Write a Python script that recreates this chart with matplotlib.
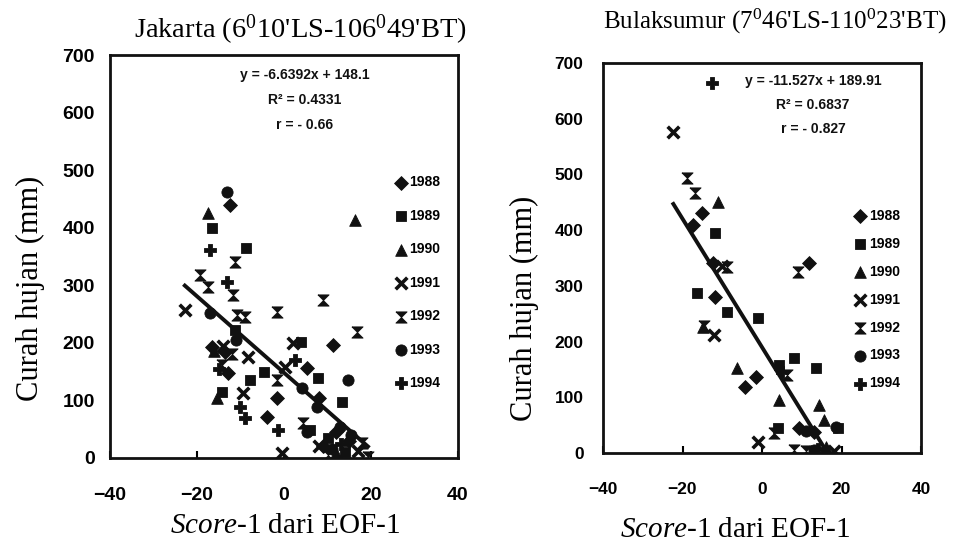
import matplotlib
matplotlib.use("Agg")
import matplotlib.pyplot as plt
import numpy as np

plt.rcParams['mathtext.fontset'] = 'custom'
plt.rcParams['mathtext.rm'] = 'Liberation Serif'
plt.rcParams['mathtext.it'] = 'Liberation Serif:italic'
plt.rcParams['mathtext.bf'] = 'Liberation Serif:bold'

years = ['1988', '1989', '1990', '1991', '1992', '1993', '1994']

# ---------------- Jakarta data (score-1, rainfall mm) ----------------
jkt_x = {
    '1988': [-12.5, -16.5, 11.3, 5.3, -1.6, -3.9, -13.6, 12.0, 9.0, 15.0, -12.9, 8.0],
    '1989': [-16.5, -8.7, 3.8, -14.3, -7.8, 7.8, 13.3, -11.3, 14.0, 10.0, 6.0, -4.5],
    '1990': [-17.5, 16.3, -15.4, -16.0, 12.0],
    '1991': [-22.8, -8.3, 2.0, -0.5, 0.2, -9.4, -14.0, 17.0, 8.0],
    '1992': [-11.3, -19.3, -17.5, -11.7, -10.8, -9.0, -1.6, 9.0, 16.8, -1.6, -14.3, 18.0, 19.3, 4.4, 10.0, -12.0],
    '1993': [-13.0, -17.0, 14.7, 4.1, 7.6, 5.3, 12.9, -11.0, 15.5, 11.0],
    '1994': [-17.0, -13.1, 2.5, -9.0, -1.4, -10.1, 13.0, -15.0],
}
jkt_y = {
    '1988': [440, 193, 196, 156, 104, 71, 184, 45, 20, 30, 147, 105],
    '1989': [399, 364, 201, 115, 135, 139, 97, 222, 10, 35, 48, 150],
    '1990': [425, 413, 104, 185, 8],
    '1991': [257, 175, 200, 9, 158, 113, 195, 12, 20],
    '1992': [340, 318, 297, 283, 248, 245, 253, 274, 219, 135, 161, 26, 2, 61, 5, 180],
    '1993': [462, 251, 135, 122, 89, 45, 54, 205, 40, 15],
    '1994': [361, 305, 170, 69, 49, 89, 25, 155],
}
jkt_slope, jkt_icpt = -6.6392, 148.1
jkt_eq = ['y = -6.6392x + 148.1', 'R² = 0.4331', 'r = - 0.66']

# ---------------- Bulaksumur data ----------------
blk_x = {
    '1988': [-15.0, -12.3, -11.7, 11.8, -1.6, -4.2, 9.2, -17.3, 13.0],
    '1989': [-11.7, -16.3, -8.7, -1.1, 8.0, 13.5, 3.9, 4.2, 19.0],
    '1990': [-11.0, -14.8, -6.2, 4.2, 14.3, 15.5, 16.0],
    '1991': [-22.3, -12.2, -0.9, -10.0, 13.0, 18.0],
    '1992': [-18.9, -16.8, -8.7, 9.0, 6.4, -14.5, 8.0, 11.0, 3.0],
    '1993': [18.6, 13.0, 11.0],
    '1994': [-12.5, 14.0, 5.0],
}
blk_y = {
    '1988': [431, 341, 280, 341, 137, 118, 45, 409, 38],
    '1989': [395, 287, 253, 242, 170, 153, 45, 158, 45],
    '1990': [451, 226, 153, 95, 86, 59, 10],
    '1991': [576, 212, 20, 335, 2, 3],
    '1992': [494, 467, 334, 325, 140, 228, 5, 3, 36],
    '1993': [47, 5, 40],
    '1994': [664, 8, 145],
}
blk_slope, blk_icpt = -11.527, 189.91
blk_eq = ['y = -11.527x + 189.91', 'R² = 0.6837', 'r = - 0.827']

xticks = [-40, -20, 0, 20, 40]
yticks = [0, 100, 200, 300, 400, 500, 600, 700]

hourglass = [(-1, 1), (1, 1), (-1, -1), (1, -1), (-1, 1)]
markers = {'1988': 'D', '1989': 's', '1990': '^', '1991': 'x',
           '1992': hourglass, '1993': 'o', '1994': 'P'}
sizes = {'1988': 50, '1989': 58, '1990': 70, '1991': 70,
         '1992': 65, '1993': 65, '1994': 75}

fig = plt.figure(figsize=(9.56, 5.51), dpi=100)
W, H = 956, 551

def add_axes(l, r, t, b):
    return fig.add_axes([l / W, 1 - b / H, (r - l) / W, (b - t) / H])

ax1 = add_axes(110, 458, 55, 458)
ax2 = add_axes(603, 921, 63, 453)

narrow = ['Liberation Sans Narrow', 'Liberation Sans']

def draw(ax, xs, ys, slope, icpt, eq, tick_fs, xpad, ypad, eq_xy, eq_dy,
         leg_anchor, leg_space, leg_fs):
    handles = []
    for yr in years:
        lw = 2.6 if yr == '1991' else 0.6
        h = ax.scatter(xs[yr], ys[yr], marker=markers[yr], s=sizes[yr],
                       c='#111111', linewidths=lw, label=yr, zorder=3)
        handles.append(h)
    allx = np.concatenate([xs[y] for y in years])
    x_end = min(allx.max(), -icpt / slope)
    fx = np.array([allx.min(), x_end])
    ax.plot(fx, slope * fx + icpt, color='#111111', lw=2.8, zorder=4)
    ax.set_xlim(-40, 40)
    ax.set_ylim(0, 700)
    ax.set_xticks(xticks)
    ax.set_yticks(yticks)
    ax.tick_params(axis='x', direction='in', length=5, width=1.5, pad=xpad)
    ax.tick_params(axis='y', length=0, pad=ypad)
    for lab in ax.get_xticklabels() + ax.get_yticklabels():
        lab.set_fontfamily('Liberation Sans')
        lab.set_fontweight('bold')
        lab.set_fontsize(tick_fs)
    for sp in ax.spines.values():
        sp.set_linewidth(2.0)
        sp.set_color('#111111')
    for i, s in enumerate(eq):
        ax.text(eq_xy[0], eq_xy[1] - i * eq_dy, s, transform=ax.transAxes,
                ha='center', va='center', fontsize=10, fontweight='bold',
                family=narrow, color='#111111')
    leg = ax.legend(handles=handles, loc='upper left', bbox_to_anchor=leg_anchor,
                    frameon=False, labelspacing=leg_space, handletextpad=0.1,
                    handlelength=1.0, borderaxespad=0, scatterpoints=1,
                    prop={'family': narrow, 'weight': 'bold', 'size': leg_fs})
    return leg

draw(ax1, jkt_x, jkt_y, jkt_slope, jkt_icpt, jkt_eq, 14, 21, 11,
     (0.56, 0.95), 0.062, (0.8, 0.715), 1.4, 10)
draw(ax2, blk_x, blk_y, blk_slope, blk_icpt, blk_eq, 12.5, 21, 14,
     (0.66, 0.955), 0.062, (0.77, 0.64), 1.0, 10)

serif = 'Liberation Serif'
fig.text(300 / W, 1 - 30 / H, "Jakarta (6$^0$10'LS-106$^0$49'BT)",
         ha='center', va='center', fontsize=20.5, family=serif)
fig.text(775 / W, 1 - 21 / H, "Bulaksumur (7$^0$46'LS-110$^0$23'BT)",
         ha='center', va='center', fontsize=18, family=serif)
fig.text(30 / W, 1 - 288 / H, 'Curah hujan (mm)', rotation=90,
         ha='center', va='center', fontsize=22, family=serif)
fig.text(524 / W, 1 - 308 / H, 'Curah hujan (mm)', rotation=90,
         ha='center', va='center', fontsize=22, family=serif)
fig.text(285 / W, 1 - 526 / H, '$\\mathit{Score}$-1 dari EOF-1',
         ha='center', va='center', fontsize=21, family=serif)
fig.text(735 / W, 1 - 530 / H, '$\\mathit{Score}$-1 dari EOF-1',
         ha='center', va='center', fontsize=21, family=serif)

fig.savefig('out.png', dpi=100, facecolor='white')
